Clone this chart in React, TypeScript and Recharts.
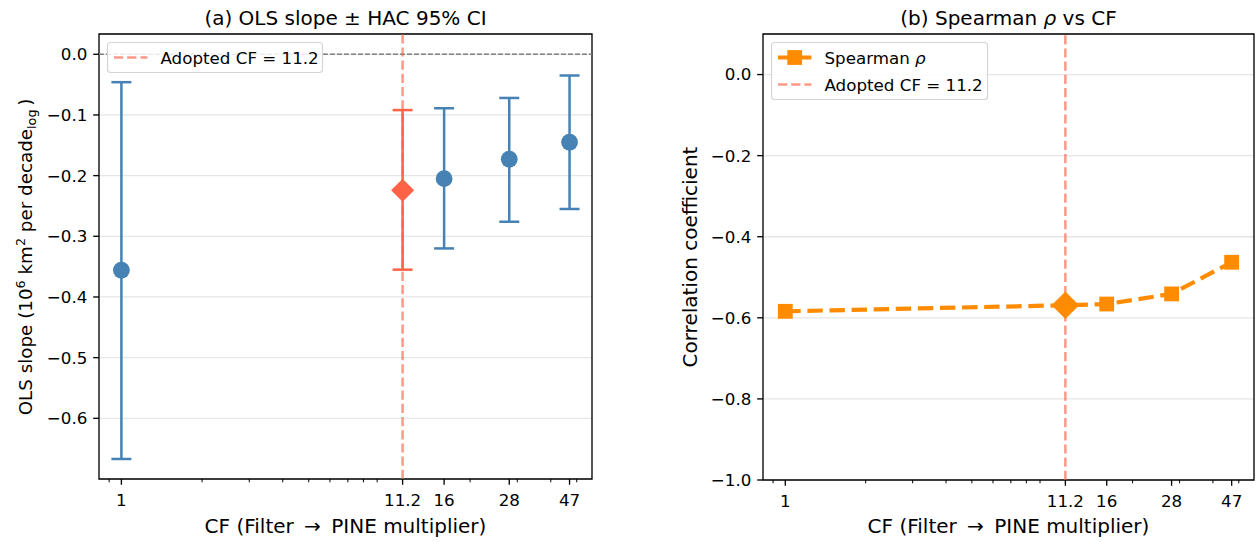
import React from 'react';
import {
  ComposedChart,
  Scatter,
  Line,
  XAxis,
  YAxis,
  CartesianGrid,
  ReferenceLine,
  ReferenceArea,
  ErrorBar,
} from 'recharts';

// values
const cfValues = [1, 11.2, 16, 28, 47];
const olsSlope = [-0.356, -0.224, -0.205, -0.173, -0.145];
const ciLow = [-0.667, -0.355, -0.32, -0.276, -0.255];
const ciHigh = [-0.046, -0.092, -0.089, -0.072, -0.035];
const spearmanRho = [-0.584, -0.569, -0.566, -0.541, -0.463];
const ADOPTED_CF = 11.2;

const xMajorTicks = [1, 11.2, 16, 28, 47];
const xMinorTicks = [0.9, 2, 3, 4, 5, 6, 7, 8, 9, 20, 30, 40, 50];
const slopeTicks = [0, -0.1, -0.2, -0.3, -0.4, -0.5, -0.6];
const rhoTicks = [0, -0.2, -0.4, -0.6, -0.8, -1.0];

const X_DOMAIN: [number, number] = [0.825, 57];
const SLOPE_DOMAIN: [number, number] = [-0.7, 0.0334];
const RHO_DOMAIN: [number, number] = [-1, 0.1];

const FONT = '"DejaVu Sans", Verdana, sans-serif';
const BLUE = '#4682b4';
const TOMATO = '#ff6347';
const ORANGE = '#ff8c00';
const X_LABEL = 'CF (Filter \u2009\u2192\u2009 PINE multiplier)';

const slopeData = cfValues.map((cf, i) => ({
  cf,
  slope: olsSlope[i],
  err: [olsSlope[i] - ciLow[i], ciHigh[i] - olsSlope[i]],
}));
const otherPoints = slopeData.filter((d) => d.cf !== ADOPTED_CF);
const adoptedPoints = slopeData.filter((d) => d.cf === ADOPTED_CF);

const rhoData = cfValues.map((cf, i) => ({ cf, rho: spearmanRho[i] }));

const fmt = (v: number) => (v === 0 ? '0.0' : '\u2212' + Math.abs(v).toFixed(1));

function XTick(props: any) {
  const { x, y, payload } = props;
  const major = xMajorTicks.includes(payload.value);
  return (
    <g>
      <line
        x1={x}
        x2={x}
        y1={y}
        y2={y + (major ? 5.8 : 3.3)}
        stroke="#000"
        strokeWidth={major ? 1.33 : 1}
      />
      {major && (
        <text x={x} y={y + 27} textAnchor="middle" fontSize={16.7} fontFamily={FONT} fill="#000">
          {String(payload.value)}
        </text>
      )}
    </g>
  );
}

const yTick = { fontSize: 16.7, fontFamily: FONT, fill: '#000' };

const circleShape = (p: any) => <circle cx={p.cx} cy={p.cy} r={8.4} fill={BLUE} />;
const diamond = (cx: number, cy: number, r: number) =>
  `M${cx},${cy - r}L${cx + r},${cy}L${cx},${cy + r}L${cx - r},${cy}Z`;
const diamondShape = (p: any) => <path d={diamond(p.cx, p.cy, 11.5)} fill={TOMATO} />;

const rhoDot = (p: any) => {
  const { cx, cy, payload, index } = p;
  if (payload.cf === ADOPTED_CF) {
    return <path key={`d-${index}`} d={diamond(cx, cy, 13.8)} fill={ORANGE} />;
  }
  return <rect key={`d-${index}`} x={cx - 7.4} y={cy - 7.4} width={14.8} height={14.8} fill={ORANGE} />;
};

function SlopePanel() {
  return (
    <ComposedChart width={620} height={542} margin={{ top: 34, right: 28, bottom: 0, left: 0 }}>
      <CartesianGrid vertical={false} stroke="#e6e6e6" strokeWidth={1.3} />
      <XAxis
        dataKey="cf"
        type="number"
        scale="log"
        domain={X_DOMAIN}
        allowDataOverflow
        ticks={[...xMinorTicks, ...xMajorTicks]}
        interval={0}
        tickSize={0}
        tickMargin={0}
        tick={<XTick />}
        axisLine={false}
        tickLine={false}
        height={63}
      />
      <YAxis
        type="number"
        domain={SLOPE_DOMAIN}
        allowDataOverflow
        ticks={slopeTicks}
        tickFormatter={fmt}
        tick={yTick}
        tickSize={5.8}
        tickMargin={5.8}
        tickLine={{ stroke: '#000', strokeWidth: 1.33 }}
        axisLine={false}
        width={99}
      />
      <ReferenceLine y={0} stroke="#808080" strokeWidth={1.33} strokeDasharray="4.9 2.1" />
      <ReferenceLine
        x={ADOPTED_CF}
        stroke={TOMATO}
        strokeOpacity={0.65}
        strokeWidth={2.5}
        strokeDasharray="9.2 4"
      />
      <Scatter data={otherPoints} dataKey="slope" fill={BLUE} shape={circleShape} isAnimationActive={false}>
        <ErrorBar dataKey="err" direction="y" width={10} stroke={BLUE} strokeWidth={2.5} />
      </Scatter>
      <Scatter data={adoptedPoints} dataKey="slope" fill={TOMATO} shape={diamondShape} isAnimationActive={false}>
        <ErrorBar dataKey="err" direction="y" width={10} stroke={TOMATO} strokeWidth={2.5} />
      </Scatter>
      <ReferenceArea
        x1={X_DOMAIN[0]}
        x2={X_DOMAIN[1]}
        y1={SLOPE_DOMAIN[0]}
        y2={SLOPE_DOMAIN[1]}
        fill="none"
        stroke="#000"
        strokeWidth={1.33}
        ifOverflow="visible"
      />
    </ComposedChart>
  );
}

function RhoPanel() {
  return (
    <ComposedChart width={598} height={542} data={rhoData} margin={{ top: 34, right: 4, bottom: 0, left: 0 }}>
      <CartesianGrid vertical={false} stroke="#e6e6e6" strokeWidth={1.3} />
      <XAxis
        dataKey="cf"
        type="number"
        scale="log"
        domain={X_DOMAIN}
        allowDataOverflow
        ticks={[...xMinorTicks, ...xMajorTicks]}
        interval={0}
        tickSize={0}
        tickMargin={0}
        tick={<XTick />}
        axisLine={false}
        tickLine={false}
        height={62}
      />
      <YAxis
        type="number"
        domain={RHO_DOMAIN}
        allowDataOverflow
        ticks={rhoTicks}
        tickFormatter={fmt}
        tick={yTick}
        tickSize={5.8}
        tickMargin={5.8}
        tickLine={{ stroke: '#000', strokeWidth: 1.33 }}
        axisLine={false}
        width={103}
      />
      <ReferenceLine
        x={ADOPTED_CF}
        stroke={TOMATO}
        strokeOpacity={0.65}
        strokeWidth={2.5}
        strokeDasharray="9.2 4"
      />
      <Line
        dataKey="rho"
        type="linear"
        stroke={ORANGE}
        strokeWidth={4.2}
        strokeDasharray="15.4 6.7"
        dot={rhoDot}
        activeDot={false}
        isAnimationActive={false}
      />
      <ReferenceArea
        x1={X_DOMAIN[0]}
        x2={X_DOMAIN[1]}
        y1={RHO_DOMAIN[0]}
        y2={RHO_DOMAIN[1]}
        fill="none"
        stroke="#000"
        strokeWidth={1.33}
        ifOverflow="visible"
      />
    </ComposedChart>
  );
}

function Overlay() {
  const t = { fontFamily: FONT, fill: '#000' };
  return (
    <svg width={1258} height={542} style={{ position: 'absolute', left: 0, top: 0, pointerEvents: 'none' }}>
      {/* titles */}
      <text x={345.5} y={25} textAnchor="middle" fontSize={20} {...t}>
        (a) OLS slope ± HAC 95% CI
      </text>
      <text x={1008.5} y={25} textAnchor="middle" fontSize={20} {...t}>
        (b) Spearman <tspan fontStyle="italic">ρ</tspan> vs CF
      </text>
      {/* x labels */}
      <text x={345.5} y={533} textAnchor="middle" fontSize={20} {...t}>
        {X_LABEL}
      </text>
      <text x={1008.5} y={533} textAnchor="middle" fontSize={20} {...t}>
        {X_LABEL}
      </text>
      {/* y labels */}
      <text x={32} y={257} textAnchor="middle" fontSize={18.3} transform="rotate(-90 32 257)" {...t}>
        OLS slope (10
        <tspan fontSize={12.8} dy={-7.5}>6</tspan>
        <tspan dy={7.5}> km</tspan>
        <tspan fontSize={12.8} dy={-7.5}>2</tspan>
        <tspan dy={7.5}> per decade</tspan>
        <tspan fontSize={12.8} dy={3.5}>log</tspan>
        <tspan dy={-3.5}>{'\u2009)'}</tspan>
      </text>
      <text x={697} y={257} textAnchor="middle" fontSize={20} transform="rotate(-90 697 257)" {...t}>
        Correlation coefficient
      </text>

      {/* legend (a) */}
      <rect x={107.5} y={42.5} width={215} height={30} rx={3} fill="#fff" fillOpacity={0.85} stroke="#d5d5d5" strokeWidth={1.2} />
      <line x1={114} x2={147.4} y1={57.5} y2={57.5} stroke={TOMATO} strokeOpacity={0.65} strokeWidth={2.5} strokeDasharray="9.2 4" />
      <text x={160.5} y={63.5} fontSize={16.7} {...t}>
        Adopted CF = 11.2
      </text>

      {/* legend (b) */}
      <rect x={771.5} y={42.5} width={216} height={57} rx={3} fill="#fff" fillOpacity={0.85} stroke="#d5d5d5" strokeWidth={1.2} />
      <line x1={778} x2={811.4} y1={57.5} y2={57.5} stroke={ORANGE} strokeWidth={4.2} strokeDasharray="15.4 6.7" />
      <rect x={787.3} y={50.1} width={14.8} height={14.8} fill={ORANGE} />
      <text x={824.5} y={63.5} fontSize={16.7} {...t}>
        Spearman <tspan fontStyle="italic">ρ</tspan>
      </text>
      <line x1={778} x2={811.4} y1={84.5} y2={84.5} stroke={TOMATO} strokeOpacity={0.65} strokeWidth={2.5} strokeDasharray="9.2 4" />
      <text x={824.5} y={90.5} fontSize={16.7} {...t}>
        Adopted CF = 11.2
      </text>
    </svg>
  );
}

export default function App() {
  return (
    <div style={{ position: 'absolute', left: 0, top: 0, width: 1258, height: 542, background: '#fff' }}>
      <div style={{ position: 'absolute', left: 0, top: 0 }}>
        <SlopePanel />
      </div>
      <div style={{ position: 'absolute', left: 660, top: 0 }}>
        <RhoPanel />
      </div>
      <Overlay />
    </div>
  );
}
